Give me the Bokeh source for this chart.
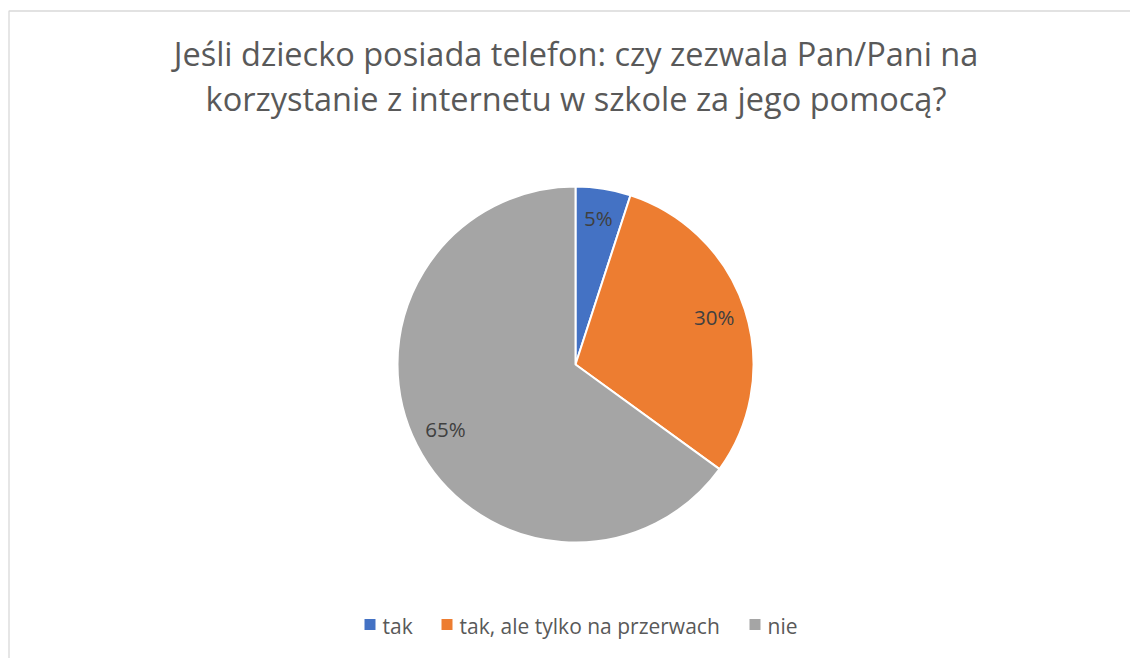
import math
from bokeh.plotting import figure
from bokeh.models import ColumnDataSource, Range1d
from bokeh.core.properties import value
from bokeh.embed import file_html
from bokeh.resources import INLINE

# ---- data ----
categories = ["tak", "tak, ale tylko na przerwach", "nie"]
percents = [5, 30, 65]
colors = ["#4472C4", "#ED7D31", "#A5A5A5"]
title_lines = ["Jeśli dziecko posiada telefon: czy zezwala Pan/Pani na",
               "korzystanie z internetu w szkole za jego pomocą?"]

W, H = 1130, 658
FONT = "Open Sans"

p = figure(width=W, height=H, output_backend="svg", toolbar_location=None,
           x_range=Range1d(0, W), y_range=Range1d(0, H), min_border=0)
p.axis.visible = False
p.grid.visible = False
p.outline_line_color = None
p.background_fill_color = "white"
p.border_fill_color = "white"

def Y(img_y):
    return H - img_y

def X(img_x):
    return img_x

# chart border (top and left visible)
p.line(x=[8.5, 8.5, W], y=[-10, Y(10.5), Y(10.5)], line_color="#d9d9d9", line_width=1.3)

# pie
cx, cy, R = X(575), Y(364), 178
total = float(sum(percents))
starts, ends, lx, ly, labels = [], [], [], [], []
cum = 0.0
for v in percents:
    a0 = math.pi / 2 - cum / total * 2 * math.pi
    cum += v
    a1 = math.pi / 2 - cum / total * 2 * math.pi
    starts.append(a0)
    ends.append(a1)
    mid = (a0 + a1) / 2
    lx.append(cx + 0.82 * R * math.cos(mid))
    ly.append(cy + 0.82 * R * math.sin(mid))
    labels.append(f"{v}%")

src = ColumnDataSource(dict(start=starts, end=ends, color=colors, cat=categories))
p.wedge(x=cx, y=cy, radius=R, start_angle="start", end_angle="end", direction="clock",
        fill_color="color", line_color="white", line_width=2, source=src)

p.text(x=lx, y=ly, text=labels, text_font=value(FONT), text_font_size="20.5px",
       text_color="#404040", text_align="center", text_baseline="middle",
       y_offset=-2)

# title
p.text(x=[X(575.5), X(575.5)], y=[Y(53), Y(98)], text=title_lines,
       text_font=value(FONT), text_font_size="32.5px", text_color="#595959",
       text_align="center", text_baseline="alphabetic")

# legend
sq_x = [X(369.5), X(446.5), X(754.5)]
tx = [X(382), X(459), X(767)]
p.scatter(x=sq_x, y=[Y(624)] * 3, marker="square", size=11, fill_color=colors,
          line_color=None)
p.text(x=tx, y=[Y(625)] * 3, text=categories, text_font=value(FONT),
       text_font_size="21px", text_color="#595959", text_align="left",
       text_baseline="alphabetic")

open("out.html", "w").write(file_html(p, INLINE))
